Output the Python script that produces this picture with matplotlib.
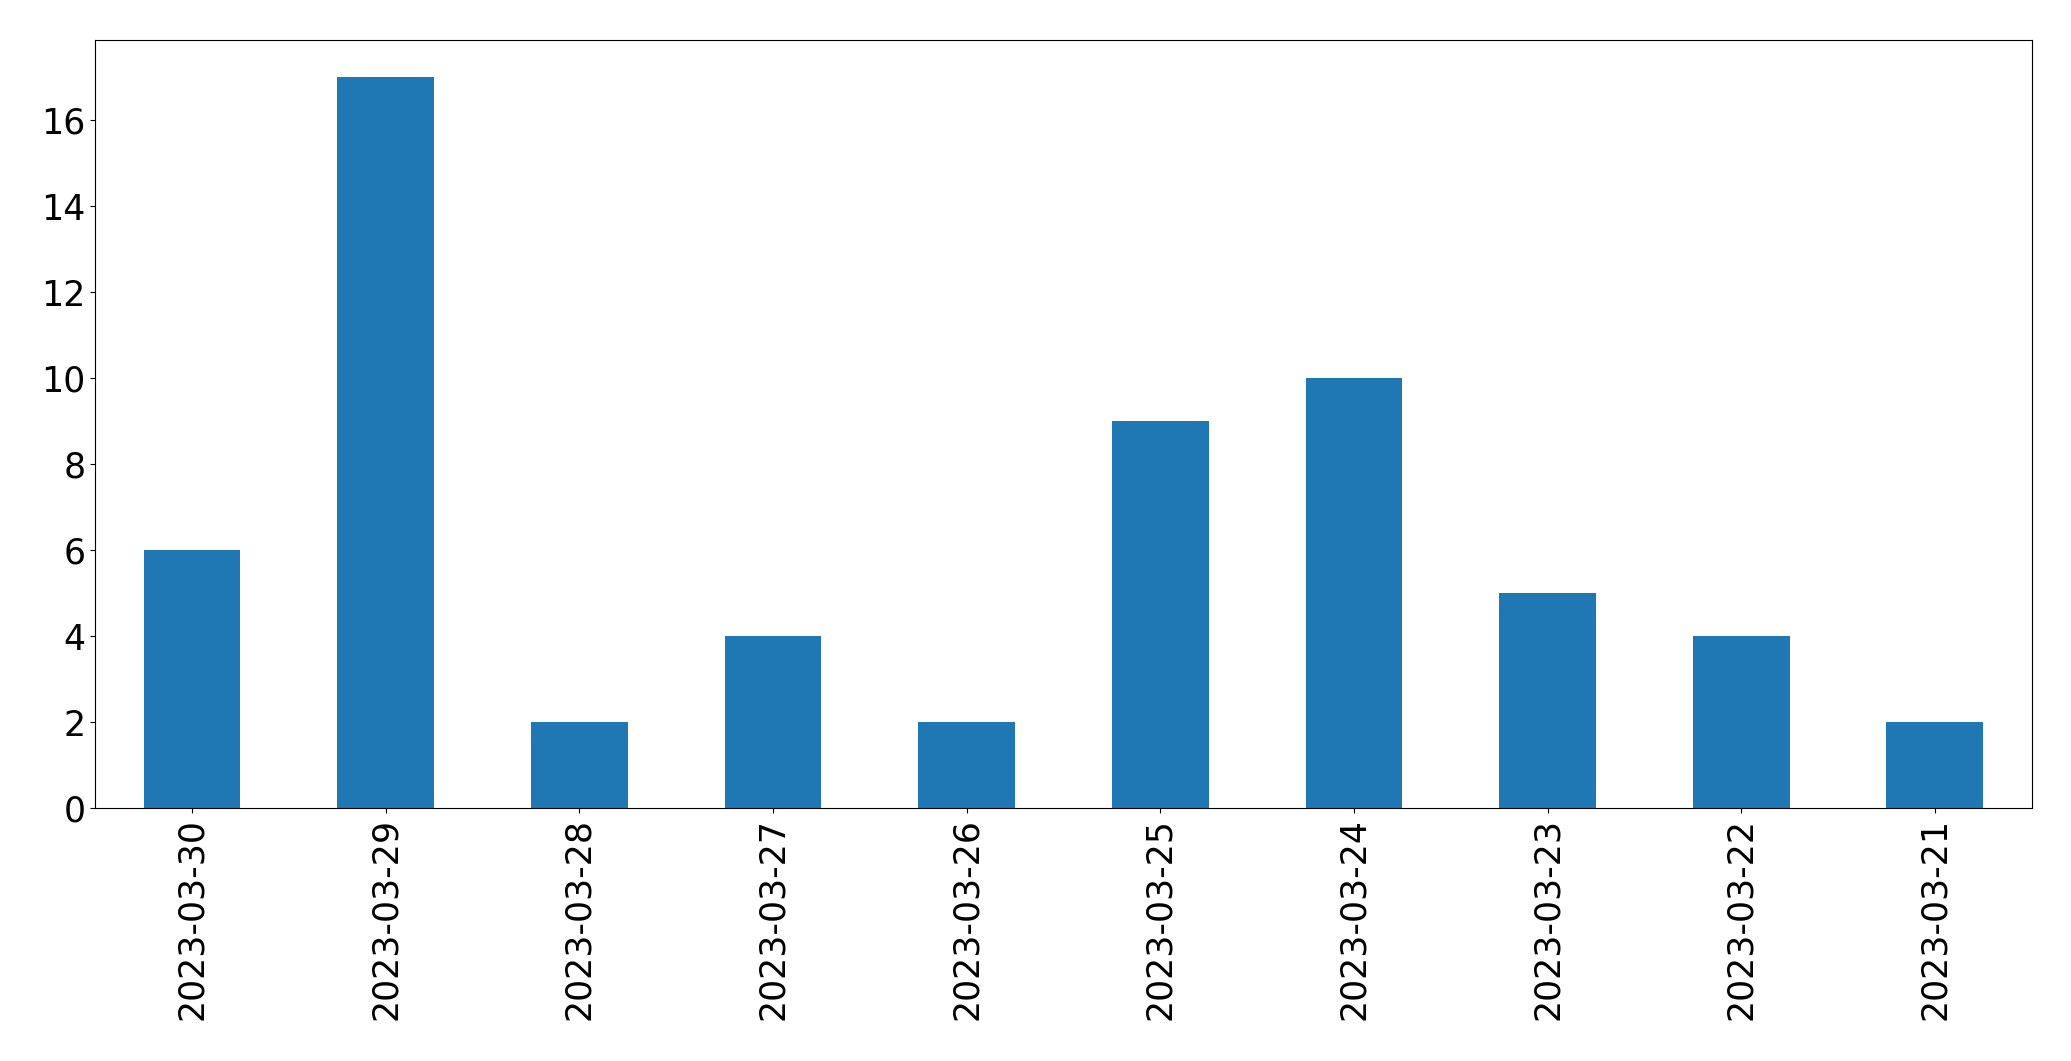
import pandas as pd
import matplotlib
matplotlib.use('Agg')
import matplotlib.pyplot as plt

dates = ['2023-03-30', '2023-03-29', '2023-03-28', '2023-03-27', '2023-03-26',
         '2023-03-25', '2023-03-24', '2023-03-23', '2023-03-22', '2023-03-21']
counts = [6, 17, 2, 4, 2, 9, 10, 5, 4, 2]

s = pd.Series(counts, index=dates)

fig, ax = plt.subplots(figsize=(20.71, 10.61), dpi=100)
s.plot(kind='bar', ax=ax, fontsize=25)
plt.subplots_adjust(left=0.046, right=0.981, top=0.962, bottom=0.238)
plt.savefig('out.png', dpi=100)
